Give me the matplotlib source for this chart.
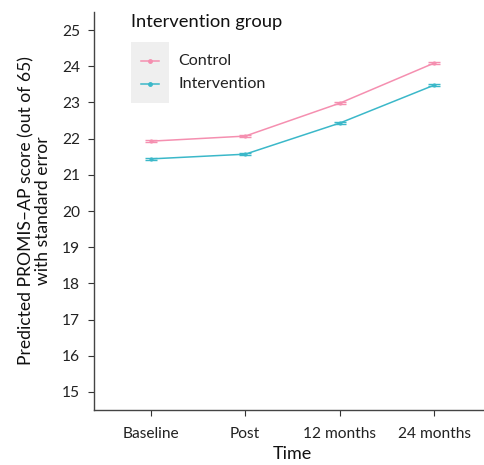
import matplotlib.pyplot as plt
from matplotlib.patches import Rectangle
from matplotlib.lines import Line2D

# values
times = ['Baseline', 'Post', '12 months', '24 months']
control = [21.93, 22.07, 22.98, 24.09]
intervention = [21.44, 21.57, 22.43, 23.48]
control_se = [0.03, 0.03, 0.03, 0.03]
intervention_se = [0.03, 0.03, 0.03, 0.03]
yticks = [15, 16, 17, 18, 19, 20, 21, 22, 23, 24, 25]

pink = '#F58FB0'
teal = '#3BB8C9'

plt.rcParams['font.family'] = ['Lato', 'DejaVu Sans']

W, H = 484, 465
fig = plt.figure(figsize=(W / 100, H / 100), dpi=100)
# axes box in pixel coords: left 94, right 491 (cropped), top 12, bottom 410
ax = fig.add_axes([94 / W, (H - 410) / H, (491 - 94) / W, (410 - 12) / H])

x = list(range(1, len(times) + 1))
ax.errorbar(x, control, yerr=control_se, color=pink, lw=1.1, capsize=4,
            capthick=1.0, marker='o', ms=2, label='Control')
ax.errorbar(x, intervention, yerr=intervention_se, color=teal, lw=1.1, capsize=4,
            capthick=1.0, marker='o', ms=2, label='Intervention')

ax.set_xlim(0.4, 4.6)
ax.set_ylim(14.5, 25.5)
ax.set_xticks(x)
ax.set_xticklabels(times)
ax.set_yticks(yticks)
ax.tick_params(labelsize=11.2, colors='#333333', length=4, width=0.8,
               labelcolor='#222222', pad=6)
ax.tick_params(axis='x', pad=8)

for side in ['top', 'right']:
    ax.spines[side].set_visible(False)
for side in ['left', 'bottom']:
    ax.spines[side].set_color('#444444')
    ax.spines[side].set_linewidth(1.0)

ax.set_xlabel('Time', fontsize=13, color='#111111', labelpad=4)
ax.set_ylabel('Predicted PROMIS\u2013AP score (out of 65)\nwith standard error',
              fontsize=12.6, color='#111111', labelpad=8, linespacing=1.05)

# legend
fig.text(131 / W, 1 - 22 / H, 'Intervention group', fontsize=13.2,
         color='#111111', va='center', ha='left')
fig.patches.append(Rectangle((131 / W, 1 - 103 / H), 38 / W, 61 / H,
                             transform=fig.transFigure, facecolor='#EFEFEF',
                             edgecolor='none', zorder=0))
for yy, col, lab in [(61, pink, 'Control'), (84, teal, 'Intervention')]:
    fig.lines.append(Line2D([141 / W, 159 / W], [1 - yy / H, 1 - yy / H],
                            transform=fig.transFigure, color=col, lw=1.1,
                            zorder=2))
    fig.lines.append(Line2D([150 / W], [1 - yy / H], transform=fig.transFigure,
                            color=col, marker='o', ms=2.5, zorder=2))
    fig.text(178 / W, 1 - yy / H, lab, fontsize=11.6, color='#222222',
             va='center', ha='left')

fig.savefig('out.png', dpi=100)
